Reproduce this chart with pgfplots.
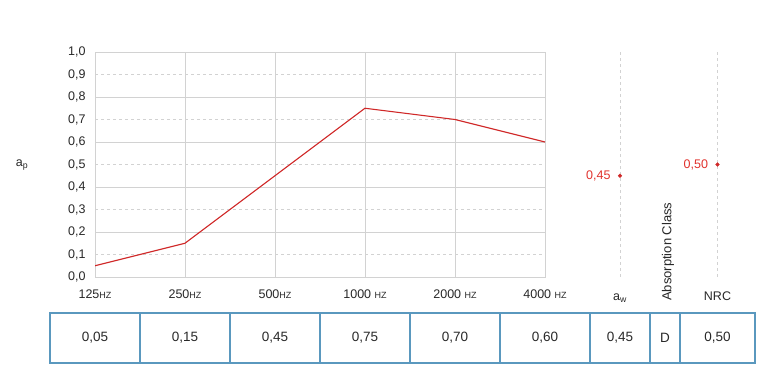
\documentclass[border=0pt]{standalone}
\usepackage{pgfplots}
\pgfplotsset{compat=1.18}
\usepackage{fontspec}
\setmainfont{Liberation Sans}
\definecolor{lred}{RGB}{208,40,40}
\definecolor{lblred}{RGB}{225,50,45}
\definecolor{gridg}{RGB}{210,210,210}
\definecolor{tblue}{RGB}{90,152,190}
\definecolor{txt}{RGB}{40,40,40}
\newcommand{\hz}{{\fontsize{9pt}{9pt}\selectfont HZ}}
\begin{document}
\begin{tikzpicture}
\path[fill=white,use as bounding box] (0,0) rectangle (780pt,391pt);
\begin{axis}[
  at={(95pt,114pt)}, anchor=south west,
  scale only axis, width=450pt, height=225pt,
  xmin=0, xmax=5, ymin=0, ymax=1,
  xtick={0,1,2,3,4,5},
  xticklabels={125\hz,250\hz,500\hz,1000 \hz,2000 \hz,4000 \hz},
  ytick={0,0.2,0.4,0.6,0.8,1.0},
  extra y ticks={0.1,0.3,0.5,0.7,0.9},
  extra y tick style={grid=major, major grid style={gridg, dashed, line width=0.8pt}},
  grid=major,
  major grid style={gridg, line width=0.8pt},
  axis line style={gridg, line width=0.8pt},
  tick style={draw=none},
  yticklabel style={xshift=-6pt, /pgf/number format/fixed, /pgf/number format/fixed zerofill, /pgf/number format/precision=1, /pgf/number format/use comma, /pgf/number format/assume math mode=true},
  ticklabel style={font=\fontsize{12.5pt}{13pt}\selectfont, text=txt},
  xticklabel style={yshift=-9pt},
]
\addplot[lred, line width=1.1pt] coordinates {(0,0.05) (1,0.15) (2,0.45) (3,0.75) (4,0.70) (5,0.60)};
\end{axis}
\begin{axis}[
  at={(50pt,114pt)}, anchor=south west,
  scale only axis, width=705pt, height=225pt,
  xmin=-0.5, xmax=7.3333, ymin=0, ymax=1,
  hide axis, clip=false,
]
\addplot[gridg, dashed, line width=0.8pt] coordinates {(5.8333,0) (5.8333,1)};
\addplot[gridg, dashed, line width=0.8pt] coordinates {(6.9167,0) (6.9167,1)};
\addplot[only marks, mark=*, mark size=1.9pt, lred] coordinates {(5.8333,0.45) (6.9167,0.50)};
\node[anchor=east, text=lblred, font=\fontsize{12.5pt}{13pt}\selectfont, xshift=-6pt] at (axis cs:5.8333,0.45) {0,45};
\node[anchor=east, text=lblred, font=\fontsize{12.5pt}{13pt}\selectfont, xshift=-6pt] at (axis cs:6.9167,0.50) {0,50};
\end{axis}
% labels
\node[text=txt, font=\fontsize{12.5pt}{13pt}\selectfont] at (22pt,226pt) {a\textsubscript{p}};
\node[text=txt, font=\fontsize{12.5pt}{13pt}\selectfont, anchor=base] at (620pt,90pt) {a\textsubscript{w}};
\node[text=txt, font=\fontsize{12.5pt}{13pt}\selectfont, anchor=base] at (717.5pt,90pt) {NRC};
\node[text=txt, font=\fontsize{13pt}{13pt}\selectfont, rotate=90, anchor=west, inner sep=0pt] at (668pt,90pt) {Absorption Class};
% table
\draw[tblue, line width=1.5pt] (50pt,28pt) rectangle (755pt,78pt);
\foreach \xx in {140,230,320,410,500,590,650,680} {
  \draw[tblue, line width=1.1pt] (\xx pt,28pt) -- (\xx pt,78pt);
}
\foreach \xx/\tt in {95/{0,05},185/{0,15},275/{0,45},365/{0,75},455/{0,70},545/{0,60},620/{0,45},665/D,717.5/{0,50}} {
  \node[text=txt, font=\fontsize{13.5pt}{14pt}\selectfont] at (\xx pt,53pt) {\tt};
}
\end{tikzpicture}
\end{document}
